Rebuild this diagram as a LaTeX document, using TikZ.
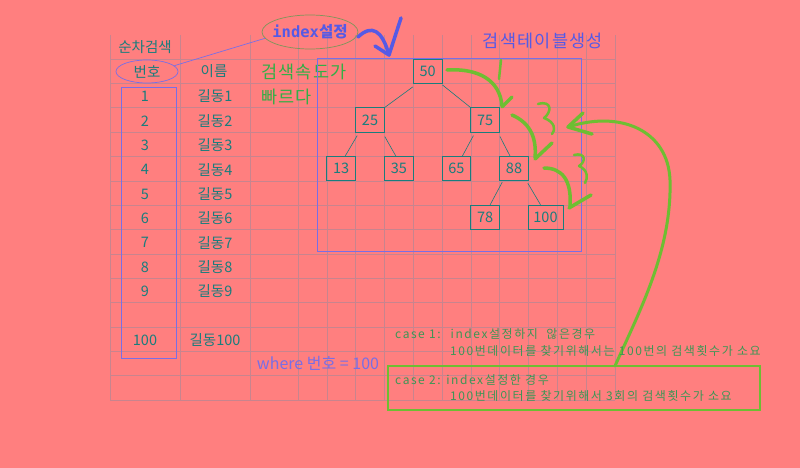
\documentclass[tikz,border=0pt]{standalone}
\usepackage{fontspec}
\setmainfont{Noto Sans CJK KR}
\newfontfamily\idxmono{DejaVu Sans Mono}
\newfontfamily\widefont[LetterSpace=7]{Noto Sans CJK KR}
\newfontfamily\casefont[LetterSpace=13]{Noto Sans CJK KR}
\usetikzlibrary{shapes.geometric}

\definecolor{bgpink}{RGB}{255,127,127}
\definecolor{gridline}{RGB}{200,132,142}
\definecolor{tealtxt}{RGB}{25,125,125}
\definecolor{framepurple}{RGB}{120,110,230}
\definecolor{bluetxt}{RGB}{85,90,230}
\definecolor{speedgreen}{RGB}{50,175,70}
\definecolor{handgreen}{RGB}{110,190,50}
\definecolor{casegreen}{RGB}{60,150,85}
\definecolor{olivering}{RGB}{125,150,90}

\tikzset{
	cell/.style={text=tealtxt, font=\fontsize{14.5}{17}\selectfont, inner sep=0pt},
	treebox/.style={draw=tealtxt, line width=0.8pt, minimum width=28.8pt, minimum height=24.4pt, inner sep=0pt, text=tealtxt, font=\fontsize{14.5}{17}\selectfont},
	treeedge/.style={draw=tealtxt, line width=0.6pt},
	handpen/.style={draw=handgreen, line width=3.5pt, line cap=round, line join=round},
	bluepen/.style={draw=bluetxt, line width=3.5pt, line cap=round, line join=round},
	casetext/.style={text=casegreen, font=\casefont\fontsize{12}{14}\selectfont, anchor=west, inner sep=0pt}
}

\begin{document}
\begin{tikzpicture}[x=1pt, y=-1pt]
	%%%%% START %%%%%
	
	\fill[bgpink] (0,0) rectangle (800,468);
	\useasboundingbox (0,0) rectangle (800,468);
	
	% sheet grid
	\foreach \gx in {110,180,250,298,326.8,355.6,384.4,413.2,442,470.8,499.6,528.4,557.2,586,614.8}
		\draw[gridline, line width=0.6pt] (\gx,35) -- (\gx,400);
	\foreach \k in {0,...,14}
		\draw[gridline, line width=0.6pt] (110,{59+24.36*\k}) -- (614.8,{59+24.36*\k});
	
	% table
	\node[cell] (title) at (145,47) {순차검색};
	\node[cell, ellipse, draw=framepurple, line width=0.7pt, minimum width=62pt, minimum height=23pt] (hnum) at (147,71.5) {번호};
	\node[cell] (hname) at (214,71.5) {이름};
	
	\draw[framepurple, line width=0.8pt] (121,87) rectangle (176,358);
	
	\node[cell] (num1) at (145,96.5) {1};
	\node[cell] (num2) at (145,120.9) {2};
	\node[cell] (num3) at (145,145.3) {3};
	\node[cell] (num4) at (145,169.6) {4};
	\node[cell] (num5) at (145,194) {5};
	\node[cell] (num6) at (145,218.3) {6};
	\node[cell] (num7) at (145,242.7) {7};
	\node[cell] (num8) at (145,267.1) {8};
	\node[cell] (num9) at (145,291.4) {9};
	\node[cell] (num100) at (145,340) {100};
	
	\node[cell] (name1) at (215,96.5) {길동1};
	\node[cell] (name2) at (215,120.9) {길동2};
	\node[cell] (name3) at (215,145.3) {길동3};
	\node[cell] (name4) at (215,169.6) {길동4};
	\node[cell] (name5) at (215,194) {길동5};
	\node[cell] (name6) at (215,218.3) {길동6};
	\node[cell] (name7) at (215,242.7) {길동7};
	\node[cell] (name8) at (215,267.1) {길동8};
	\node[cell] (name9) at (215,291.4) {길동9};
	\node[cell] (name100) at (215,340) {길동100};
	
	\node[text=framepurple, font=\fontsize{16}{18}\selectfont, inner sep=0pt] (where) at (318,363) {where 번호 = 100};
	
	% index setting
	\node[ellipse, draw=olivering, line width=0.7pt, minimum width=96pt, minimum height=34pt, inner sep=0pt] (idxring) at (310,32) {};
	\node[text=bluetxt, font=\fontsize{15.5}{17}\selectfont\bfseries, inner sep=0pt] (idx) at (idxring) {{\idxmono index}설정};
	\draw[framepurple, line width=0.7pt] (hnum.12) -- (idxring.188);
	
	\coordinate (bluetip) at (389,55);
	\draw[bluepen] (358,37) .. controls (372,24) and (382,30) .. (bluetip);
	\draw[bluepen] (375,46) -- (bluetip) -- (401,18);
	
	\node[text=speedgreen, font=\widefont\fontsize{17.5}{20}\selectfont, anchor=west, inner sep=0pt] (speed1) at (261,72) {검색속도가};
	\node[text=speedgreen, font=\widefont\fontsize{17.5}{20}\selectfont, anchor=west, inner sep=0pt] (speed2) at (261,97) {빠르다};
	
	\node[text=bluetxt, font=\widefont\fontsize{17.5}{20}\selectfont, inner sep=0pt] (gen) at (543,41) {검색테이블생성};
	
	% search tree
	\draw[framepurple, line width=1pt] (317,59) rectangle (581,251);
	
	\node[treebox] (n50) at (427.6,71.3) {50};
	\node[treebox] (n25) at (370,120) {25};
	\node[treebox] (n75) at (485.2,120) {75};
	\node[treebox] (n13) at (341.2,168.6) {13};
	\node[treebox] (n35) at (398.8,168.6) {35};
	\node[treebox] (n65) at (456.4,168.6) {65};
	\node[treebox] (n88) at (514,168.6) {88};
	\node[treebox] (n78) at (485.2,217.3) {78};
	\node[treebox, minimum width=35pt] (n100) at (545.5,217.3) {100};
	
	\draw[treeedge] ([yshift=-3pt]n50.south west) -- (n25.north east);
	\draw[treeedge] ([yshift=-1pt]n50.south east) -- (n75.north west);
	\draw[treeedge] ([xshift=2pt, yshift=-3pt]n25.south west) -- ([xshift=4pt]n13.north);
	\draw[treeedge] ([yshift=-4pt]n25.south east) -- ([xshift=-3pt]n35.north);
	\draw[treeedge] ([xshift=3pt, yshift=-3pt]n75.south west) -- ([xshift=6pt]n65.north);
	\draw[treeedge] ([yshift=-4pt]n75.south east) -- ([xshift=-4pt]n88.north);
	\draw[treeedge] ([xshift=3pt, yshift=-1pt]n88.south west) -- ([xshift=5pt]n78.north);
	\draw[treeedge] ([xshift=-1pt, yshift=-2pt]n88.south east) -- ([xshift=-5pt]n100.north);
	
	% hand drawn search steps
	\draw[handpen] (447,70) .. controls (478,68) and (500,80) .. (502,106);
	\draw[handpen] (512,97) -- (502,107);
	\draw[handpen, line width=2.5pt] (501,60) -- (499,79);
	
	\draw[handpen] (512,115) .. controls (528,122) and (537,135) .. (535,158);
	\draw[handpen] (552,143) -- (535,159);
	\draw[handpen, line width=2.5pt] (538,104) .. controls (552,100) and (552,112) .. (544,118) .. controls (555,122) and (556,130) .. (552,134);
	
	\draw[handpen] (544,168) .. controls (562,168) and (572,180) .. (570,207);
	\draw[handpen] (591,195) -- (569,208);
	\draw[handpen, line width=2.5pt] (574,155) .. controls (586,152) and (586,162) .. (579,166) .. controls (588,170) and (588,178) .. (585,183);
	
	\coordinate (bigstart) at (615,366);
	\coordinate (bigtip) at (568,127);
	\draw[handpen, line width=3pt] (bigstart) .. controls (640,310) and (672,250) .. (670,180) .. controls (668,130) and (620,110) .. (bigtip);
	\draw[handpen] (583,113) -- (bigtip) -- (592,134);
	
	% cases
	\node[casetext] (case1a) at (395,334) {case 1:\hspace{10pt}index설정하지~~않은경우};
	\node[casetext] (case1b) at (450,351) {100번데이터를~찾기위해서는~100번의~검색횟수가~소요};
	
	\draw[handgreen, line width=2pt] (388,366) rectangle (760,410);
	\node[casetext] (case2a) at (395,380) {case 2: index설정한 경우};
	\node[casetext] (case2b) at (450,396) {100번데이터를~찾기위해서~3회의~검색횟수가~소요};
	
	%%%%% END %%%%%
\end{tikzpicture}
\end{document}
